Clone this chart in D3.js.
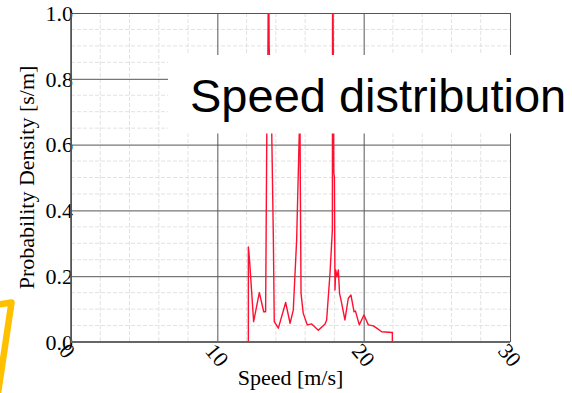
<!DOCTYPE html>
<html>
<head>
<meta charset="utf-8">
<script src="https://cdn.jsdelivr.net/npm/d3@7"></script>
<style>
  body { margin: 0; background: #fff; }
  svg { display: block; }
</style>
</head>
<body>
<svg id="chart" width="572" height="393"></svg>
<script>
// speed [m/s] and probability density [s/m]
var speed   = [12.12, 12.12, 12.2, 12.48, 12.87, 13.17, 13.3, 13.38, 13.46, 13.5, 13.54, 13.72, 13.83, 13.89, 14.17,
               14.67, 14.97, 15.19, 15.42, 15.6, 15.64, 15.67, 15.72, 15.87, 16.15, 16.45, 16.9, 17.36, 17.47,
               17.7, 17.86, 17.88, 17.96, 18.0, 18.04, 18.09, 18.18, 18.27, 18.35, 18.45, 18.72, 18.95, 19.13,
               19.34, 19.44, 19.7, 20.02, 20.32, 20.66, 20.89, 21.23, 21.96, 21.96];
var density = [0, 0.289, 0.25, 0.062, 0.15, 0.092, 0.092, 0.635, 0.9, 1.2, 0.9, 0.63, 0.31, 0.062, 0.042,
               0.12, 0.057, 0.097, 0.31, 0.635, 0.74, 0.49, 0.148, 0.087, 0.052, 0.055, 0.036, 0.055, 0.067,
               0.209, 0.34, 1.3, 0.515, 0.50, 0.158, 0.219, 0.198, 0.219, 0.148, 0.128, 0.067, 0.133, 0.143,
               0.092, 0.094, 0.052, 0.082, 0.052, 0.049, 0.042, 0.031, 0.029, 0];

var xMajor = [0, 10, 20, 30];
var yMajor = [0, 0.2, 0.4, 0.6, 0.8, 1.0];
var xMinor = [2, 4, 6, 8, 12, 14, 16, 18, 22, 24, 26, 28];
var yMinor = [0.05, 0.1, 0.15, 0.25, 0.3, 0.35, 0.45, 0.5, 0.55, 0.65, 0.7, 0.75, 0.85, 0.9, 0.95];

var title = "Speed distribution";
var xLabel = "Speed [m/s]";
var yLabel = "Probability Density [s/m]";

var svg = d3.select("#chart");
var margin = { top: 13, right: 62, bottom: 51, left: 71 };
var width = 572 - margin.left - margin.right;
var height = 393 - margin.top - margin.bottom;
var serif = "'Liberation Serif', 'Times New Roman', serif";

var x = d3.scaleLinear().domain([0, 30]).range([0, width]);
var y = d3.scaleLinear().domain([0, 1]).range([height, 0]);

var g = svg.append("g").attr("transform", "translate(" + margin.left + "," + margin.top + ")");

// minor grid (dashed)
g.selectAll(".vminor").data(xMinor).enter().append("line")
    .attr("x1", d => x(d)).attr("x2", d => x(d)).attr("y1", 0).attr("y2", height)
    .attr("stroke", "#e2e2e2").attr("stroke-dasharray", "4,2");
g.selectAll(".hminor").data(yMinor).enter().append("line")
    .attr("y1", d => y(d)).attr("y2", d => y(d)).attr("x1", 0).attr("x2", width)
    .attr("stroke", "#e2e2e2").attr("stroke-dasharray", "4,2");

// major grid + tick labels through the axes
var yAxis = g.append("g")
    .call(d3.axisLeft(y).tickValues(yMajor).tickSize(-width).tickPadding(-2).tickFormat(d3.format(".1f")));
var xAxis = g.append("g")
    .attr("transform", "translate(0," + height + ")")
    .call(d3.axisBottom(x).tickValues(xMajor).tickSize(-height).tickFormat(d3.format("d")));

[yAxis, xAxis].forEach(function(a) {
    a.select(".domain").remove();
    a.selectAll(".tick line").attr("stroke", "#555").attr("stroke-width", 1);
    a.selectAll(".tick text").attr("fill", "#000").style("font-family", serif).style("font-size", "22px");
});
yAxis.selectAll(".tick text").attr("dy", "0.33em");
xAxis.selectAll(".tick text")
    .attr("text-anchor", "start")
    .attr("x", 0).attr("y", 0).attr("dy", 0)
    .attr("transform", "translate(-13.5,9.5) rotate(50)");

// axis lines
g.append("line").attr("x1", 0).attr("x2", 0).attr("y1", 0).attr("y2", height)
    .attr("stroke", "#555").attr("stroke-width", 1.6);
g.append("line").attr("x1", 0).attr("x2", width).attr("y1", height).attr("y2", height)
    .attr("stroke", "#666").attr("stroke-width", 2);

// data
svg.append("defs").append("clipPath").attr("id", "plotClip")
    .append("rect").attr("width", width).attr("height", height);

var line = d3.line()
    .x((d, i) => x(speed[i]))
    .y((d, i) => y(density[i]));

g.append("path")
    .datum(density)
    .attr("clip-path", "url(#plotClip)")
    .attr("fill", "none")
    .attr("stroke", "#ff1030")
    .attr("stroke-width", 1.4)
    .attr("stroke-linejoin", "round")
    .attr("d", line);

// axis titles
g.append("text")
    .attr("x", width / 2).attr("y", height + 43)
    .attr("text-anchor", "middle")
    .style("font-family", serif).style("font-size", "22px")
    .text(xLabel);
svg.append("text")
    .attr("transform", "translate(33.5," + (margin.top + height / 2) + ") rotate(-90)")
    .attr("text-anchor", "middle")
    .style("font-family", serif).style("font-size", "22px")
    .text(yLabel);

// title label on white box
svg.append("rect").attr("x", 168).attr("y", 55).attr("width", 410).attr("height", 78.5).attr("fill", "#fff");
svg.append("text")
    .attr("x", 190).attr("y", 112)
    .style("font-family", "'Liberation Sans', Arial, sans-serif").style("font-size", "47px")
    .attr("fill", "#000")
    .text(title);

// yellow highlight frame, bottom left
svg.append("path")
    .attr("d", "M-10,305.7 L11.5,302.5 L-3,400")
    .attr("fill", "none")
    .attr("stroke", "#ffc000")
    .attr("stroke-width", 6.5)
    .attr("stroke-linejoin", "round");
</script>
</body>
</html>
